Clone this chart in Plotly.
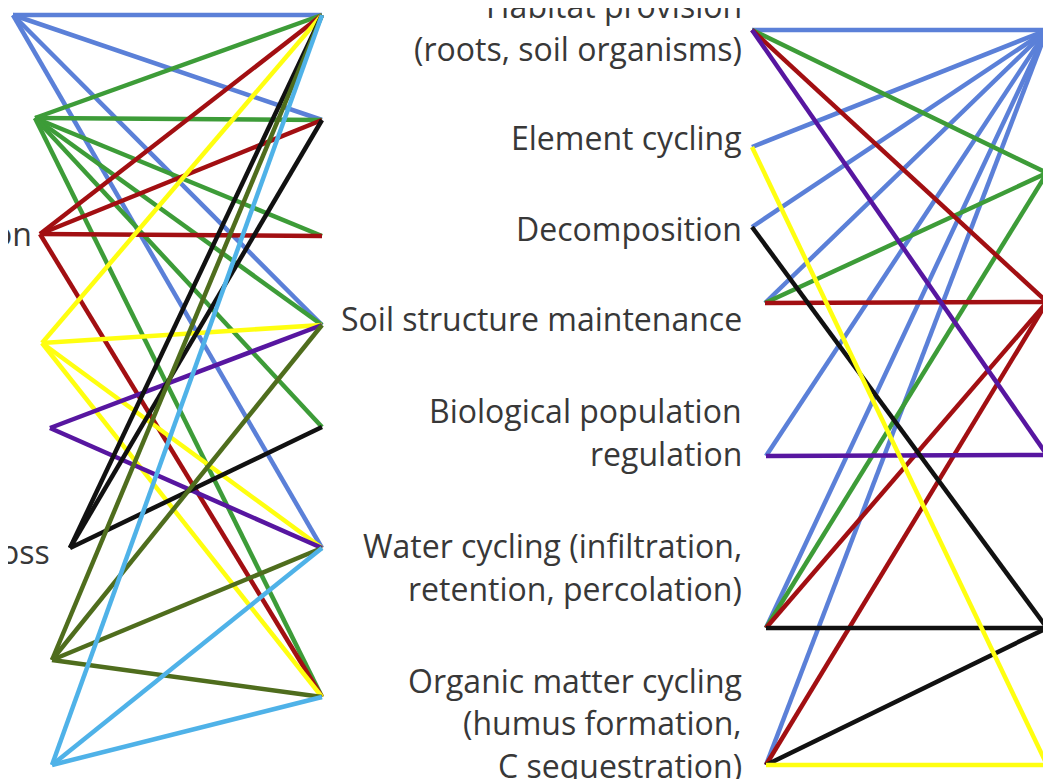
import plotly.graph_objects as go

# ---- node positions (left network) ----
left_x = [13, 35, 40, 42, 50, 70, 52, 52]
left_y = [15, 118, 234, 343, 428, 548, 660, 765]
mid_x = 322
mid_y = [15, 120, 236, 325, 427, 548, 697]

# ---- node positions (right network) ----
func_x = [752, 752, 752, 765, 766, 766, 766]
func_y = [30, 147, 227, 303, 456, 628, 765]
far_x = 1047
far_y = [30, 173, 302, 455, 628, 765]

colors = {
    "blue": "#5b80d8",
    "green": "#3d9c38",
    "red": "#a20f12",
    "yellow": "#ffff10",
    "purple": "#5716a0",
    "black": "#111111",
    "olive": "#4f6d1d",
    "lightblue": "#4fb2e8",
}

# left node index -> middle node indices
left_edges = [
    ("blue", 0, [0, 1, 3, 5]),
    ("green", 1, [0, 1, 2, 3, 4, 6]),
    ("red", 2, [0, 1, 2, 6]),
    ("yellow", 3, [0, 3, 5, 6]),
    ("purple", 4, [3, 5]),
    ("black", 5, [0, 1, 4]),
    ("olive", 6, [0, 3, 5, 6]),
    ("lightblue", 7, [0, 5, 6]),
]

# far node index -> function node indices
right_edges = [
    ("blue", 0, [0, 1, 2, 3, 4, 5, 6]),
    ("green", 1, [0, 3, 5]),
    ("red", 2, [0, 3, 5, 6]),
    ("purple", 3, [0, 4]),
    ("black", 4, [2, 5, 6]),
    ("yellow", 5, [1, 6]),
]

func_labels = [
    ["Habitat provision", "(roots, soil organisms)"],
    ["Element cycling"],
    ["Decomposition"],
    ["Soil structure maintenance"],
    ["Biological population", "regulation"],
    ["Water cycling (infiltration,", "retention, percolation)"],
    ["Organic matter cycling", "(humus formation,", "C sequestration)"],
]
func_label_y = [
    [5, 48],
    [137],
    [228],
    [318],
    [410, 453],
    [545, 588],
    [680, 722, 765],
]
left_labels = ["on", "oss"]
left_label_y = [233, 551]
left_label_x = [34, 52]

# page body has an 8px margin; the figure is offset accordingly
OFF = 8
W, H = 1051, 779

fig = go.Figure()

for cname, li, targets in left_edges:
    xs, ys = [], []
    for t in targets:
        xs += [left_x[li], mid_x, None]
        ys += [left_y[li], mid_y[t], None]
    fig.add_trace(go.Scatter(x=xs, y=ys, mode="lines",
                             line=dict(color=colors[cname], width=4.5),
                             hoverinfo="skip", showlegend=False))

for cname, fi, targets in right_edges:
    xs, ys = [], []
    for t in targets:
        xs += [far_x, func_x[t], None]
        ys += [far_y[fi], func_y[t], None]
    fig.add_trace(go.Scatter(x=xs, y=ys, mode="lines",
                             line=dict(color=colors[cname], width=4.5),
                             hoverinfo="skip", showlegend=False))

font = dict(family="Open Sans, sans-serif", size=32, color="#383838")
for lines, ys in zip(func_labels, func_label_y):
    for txt, yy in zip(lines, ys):
        # annotations whose anchor lies outside the axis range are hidden,
        # so clamp to the visible range and shift by pixels instead
        ya = max(yy, OFF)
        fig.add_annotation(x=744, y=ya, yshift=ya - yy, text=txt,
                           showarrow=False, xanchor="right", yanchor="middle",
                           font=font, xref="x", yref="y")
for txt, xx, yy in zip(left_labels, left_label_x, left_label_y):
    fig.add_annotation(x=xx, y=yy, text=txt, showarrow=False,
                       xanchor="right", yanchor="middle", font=font,
                       xref="x", yref="y")

fig.update_layout(
    width=W - OFF, height=H - OFF,
    margin=dict(l=0, r=0, t=0, b=0),
    paper_bgcolor="white", plot_bgcolor="white",
    xaxis=dict(range=[OFF, W], visible=False, fixedrange=True),
    yaxis=dict(range=[H, OFF], visible=False, fixedrange=True),
)

fig.write_html("out.html")
